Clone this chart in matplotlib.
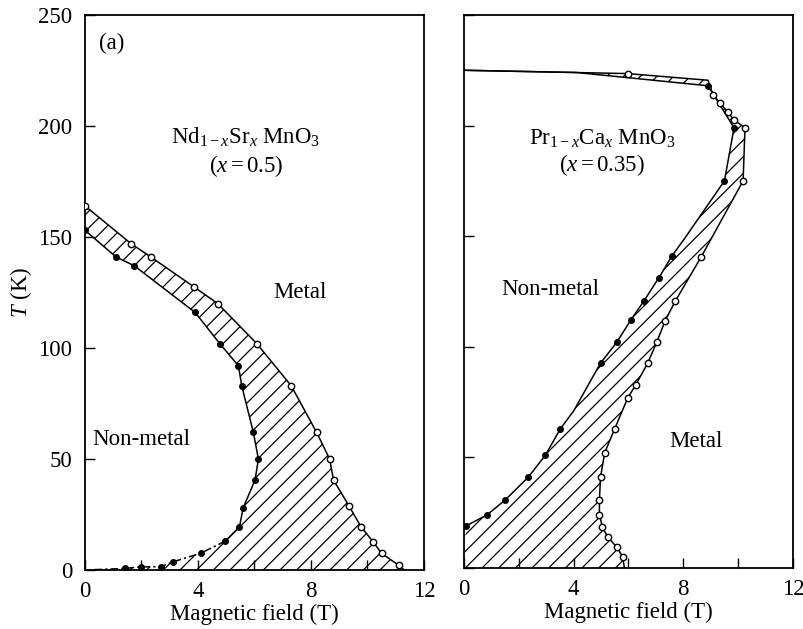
import matplotlib
matplotlib.use("Agg")
import matplotlib.pyplot as plt
from matplotlib.ticker import MultipleLocator

plt.rcParams['font.family'] = ['Liberation Serif', 'DejaVu Serif']
plt.rcParams['mathtext.fontset'] = 'custom'
plt.rcParams['mathtext.rm'] = 'Liberation Serif'
plt.rcParams['mathtext.it'] = 'Liberation Serif:italic'
plt.rcParams['hatch.linewidth'] = 0.9

# ---- Left panel: Nd(1-x)Sr(x)MnO3, x = 0.5 ----
nd_filled_B = [0, 1.1, 1.75, 3.9, 4.77, 5.43, 5.55, 5.96, 6.14, 6.02, 5.6, 5.47, 4.97, 4.1, 3.1, 2.68, 1.97, 1.4, 0]
nd_filled_T = [153, 141, 137, 116, 102, 92, 83, 62, 50, 40.5, 28, 19.5, 13, 7.6, 3.6, 1.5, 1.4, 0.7, 0]
nd_filled_marks = list(range(0, 18))
nd_dashed_from = 12   # low-temperature part of the inner boundary drawn dashed

nd_open_B = [0, 1.63, 2.33, 3.86, 4.7, 6.08, 7.3, 8.2, 8.66, 8.8, 9.34, 9.77, 10.2, 10.5, 11.1, 11.3]
nd_open_T = [164, 147, 141, 127.5, 120, 102, 83, 62, 50, 40.5, 29, 19.5, 12.7, 7.5, 2.2, 0]
nd_open_marks = list(range(0, 15))

# ---- Right panel: Pr(1-x)Ca(x)MnO3, x = 0.35 ----
pr_filled_B = [0, 4.1, 8.9, 9.85, 9.5, 8.05, 7.58, 7.1, 6.55, 6.08, 5.57, 4.98, 4.0, 3.52, 2.97, 2.34, 1.5, 0.84, 0.07]
pr_filled_T = [225, 224, 218, 199, 175, 149, 141, 131, 120.5, 112, 102, 92.6, 71, 63, 51, 41, 30.7, 24, 19]
pr_filled_marks = [2, 3, 4, 6, 7, 8, 9, 10, 11, 13, 14, 15, 16, 17, 18]

pr_open_B = [0, 5.97, 8.9, 9.08, 9.35, 9.63, 9.85, 10.25, 10.18, 8.65, 7.7, 7.33, 7.03, 6.7, 6.26, 5.97, 5.5, 5.13, 4.98, 4.94, 4.94, 5.05, 5.24, 5.57, 5.79, 5.85]
pr_open_T = [225, 223.5, 220.5, 214, 210, 206, 202.5, 199, 175, 140.6, 120.5, 111.6, 102, 92.6, 82.7, 76.8, 63, 52, 41, 30.7, 24, 18.5, 14, 9.5, 5, 0]
pr_open_marks = [1] + list(range(3, 25))

x_ticks = [0, 4, 8, 12]
y_ticks = [0, 50, 100, 150, 200, 250]

FS = 16.5

fig = plt.figure(figsize=(8.04, 6.29), dpi=100)
axL = fig.add_axes([0.1057, 0.0938, 0.4216, 0.8824])
axR = fig.add_axes([0.5771, 0.0970, 0.4092, 0.8792])


def draw_panel(ax, fB, fT, fmarks, oB, oT, omarks, close_left_bottom, dashed_from=None):
    # hatched coexistence region: open boundary then filled boundary reversed
    px = list(oB) + ([0] if close_left_bottom else []) + list(fB[::-1])
    py = list(oT) + ([0] if close_left_bottom else []) + list(fT[::-1])
    ax.fill(px, py, fill=False, hatch='//', linewidth=0, edgecolor='black')
    if dashed_from is None:
        ax.plot(fB, fT, '-', color='black', lw=1.1)
    else:
        ax.plot(fB[:dashed_from + 1], fT[:dashed_from + 1], '-', color='black', lw=1.1)
        ax.plot(fB[dashed_from:], fT[dashed_from:], color='black', lw=1.1,
                linestyle=(0, (5, 2, 1.5, 2)))
    ax.plot([fB[i] for i in fmarks], [fT[i] for i in fmarks], 'o', color='black',
            markersize=4.0, zorder=4)
    ax.plot(oB, oT, '-', color='black', lw=1.1, marker='o', markersize=4.6,
            markerfacecolor='white', markeredgecolor='black', markeredgewidth=1.0,
            markevery=omarks, zorder=3)
    ax.set_xlim(0, 12)
    ax.set_ylim(0, 250)
    ax.set_xticks(x_ticks)
    ax.set_yticks(y_ticks)
    ax.xaxis.set_minor_locator(MultipleLocator(2))
    ax.tick_params(axis='both', which='both', direction='in', length=7, width=1.0,
                   labelsize=FS, top=False, right=False)
    ax.tick_params(axis='x', pad=8)
    ax.tick_params(axis='y', pad=9)
    for s in ax.spines.values():
        s.set_linewidth(1.3)
    ax.set_xlabel('Magnetic field (T)', fontsize=FS, labelpad=1)


draw_panel(axL, nd_filled_B, nd_filled_T, nd_filled_marks,
           nd_open_B, nd_open_T, nd_open_marks, False, nd_dashed_from)
draw_panel(axR, pr_filled_B, pr_filled_T, pr_filled_marks,
           pr_open_B, pr_open_T, pr_open_marks, True)

axL.set_ylabel(r'$T$ (K)', fontsize=FS, labelpad=3)
axR.tick_params(axis='y', labelleft=False)

axL.text(0.5, 237, '(a)', fontsize=FS, ha='left', va='center')
axL.text(5.7, 195, r'Nd$_{1-x}$Sr$_x$ MnO$_3$', fontsize=FS, ha='center', va='center')
axL.text(5.7, 182, r'($x = 0.5$)', fontsize=FS, ha='center', va='center')
axL.text(7.6, 125, 'Metal', fontsize=FS, ha='center', va='center')
axL.text(2.0, 59, 'Non-metal', fontsize=FS, ha='center', va='center')

axR.text(5.05, 194, r'Pr$_{1-x}$Ca$_x$ MnO$_3$', fontsize=FS, ha='center', va='center')
axR.text(5.05, 182, r'($x = 0.35$)', fontsize=FS, ha='center', va='center')
axR.text(3.15, 126, 'Non-metal', fontsize=FS, ha='center', va='center')
axR.text(8.45, 57, 'Metal', fontsize=FS, ha='center', va='center')

fig.savefig('out.png', dpi=100)
